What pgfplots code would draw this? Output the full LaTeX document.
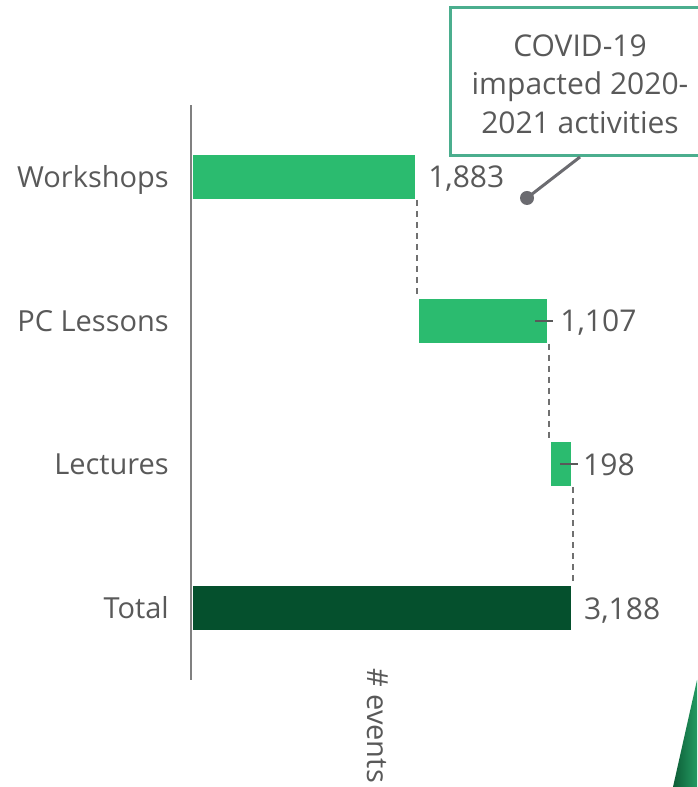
\documentclass[border=0pt]{standalone}
\usepackage{pgfplots}
\pgfplotsset{compat=1.18}
\usepackage{fontspec}
\setmainfont{Open Sans}
\definecolor{txt}{HTML}{595959}
\definecolor{lg}{HTML}{2BBB6F}
\definecolor{dg}{HTML}{05502D}
\definecolor{tealb}{HTML}{4BAE8E}
\definecolor{dashc}{HTML}{707070}
\definecolor{axc}{HTML}{808080}
\definecolor{ptr}{HTML}{6B6B70}
\definecolor{shA}{HTML}{0D5C36}
\definecolor{shB}{HTML}{239A62}
\newcommand{\catf}{\fontsize{29}{38.5}\selectfont}
\newcommand{\numf}{\fontsize{30}{38.5}\selectfont}
\begin{document}
\begin{tikzpicture}[x=1pt,y=1pt]
\useasboundingbox (0,0) rectangle (697,787);
\pgfplotsset{geom/.style={at={(191pt,107pt)}, anchor=south west, scale only axis,
  width=506pt, height=575pt, xmin=0, xmax=4223, ymin=-0.5, ymax=3.5, clip=false}}
\begin{axis}[geom, xbar stacked, bar width=48pt, axis on top,
  axis x line=none, axis y line=left,
  y axis line style={-, draw=axc, line width=1.5pt},
  ytick={0,1,2,3}, yticklabels={Total,Lectures,PC Lessons,Workshops},
  major tick length=0pt,
  yticklabel style={font=\catf, text=txt, anchor=base east, inner sep=0pt, xshift=-22pt, yshift=-10.5pt}]
\addplot[draw=none, fill=none] coordinates {(0,3) (1883,2) (2990,1) (0,0)};
\addplot[fill=lg, draw=white, line width=4pt] coordinates {(1883,3) (1107,2) (198,1) (0,0)};
\addplot[fill=dg, draw=white, line width=4pt] coordinates {(0,3) (0,2) (0,1) (3188,0)};
\end{axis}
\begin{axis}[geom, hide axis]
\addplot[dashc, line width=2pt, dash pattern=on 6pt off 5pt] coordinates {(1883,2.84) (1883,2.16)};
\addplot[dashc, line width=2pt, dash pattern=on 6pt off 5pt] coordinates {(2990,1.84) (2990,1.16)};
\addplot[dashc, line width=2pt, dash pattern=on 6pt off 5pt] coordinates {(3188,0.84) (3188,0.16)};
\addplot[txt, line width=1.8pt] coordinates {(2871,2) (3021,2)};
\addplot[txt, line width=1.8pt] coordinates {(3080,1) (3230,1)};
\node[anchor=base west, inner sep=0pt, xshift=11.5pt, yshift=-11pt, font=\numf, text=txt] at (axis cs:1883,3) {1,883};
\node[anchor=base west, inner sep=0pt, xshift=11pt, yshift=-11pt, font=\numf, text=txt] at (axis cs:2990,2) {1,107};
\node[anchor=base west, inner sep=0pt, xshift=10pt, yshift=-11pt, font=\numf, text=txt] at (axis cs:3188,1) {198};
\node[anchor=base west, inner sep=0pt, xshift=11pt, yshift=-11pt, font=\numf, text=txt] at (axis cs:3188,0) {3,188};
\end{axis}
% callout
\draw[tealb, line width=3pt] (450,631) rectangle (712,779);
\node[align=center, font=\numf, text=txt] at (580,703) {COVID-19\\impacted 2020-\\2021 activities};
\draw[ptr, line width=3pt] (580,630) -- (527,589);
\fill[ptr] (527,589) circle (7);
% axis title
\node[rotate=-90, anchor=west, inner sep=0pt, font=\catf, text=txt] at (378,119) {\# events};
% corner shape
\shade[left color=shA, right color=shB] (673,0) -- (697,107) -- (697,0) -- cycle;
\end{tikzpicture}
\end{document}
